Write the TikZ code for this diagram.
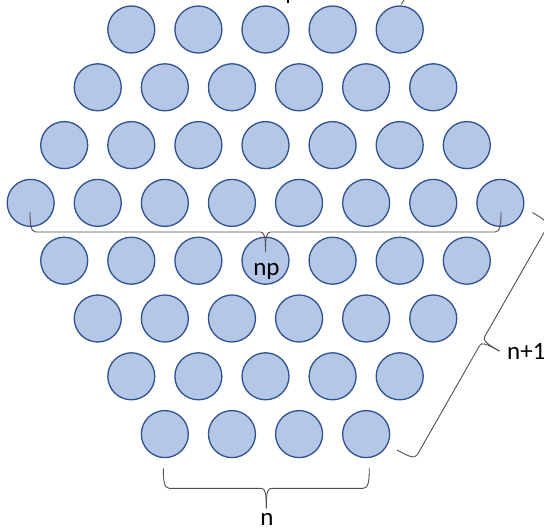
\documentclass[tikz,border=0pt]{standalone}
\usepackage{fontspec}
\setmainfont{Carlito}
\definecolor{ballfill}{RGB}{180,199,231}
\definecolor{balledge}{RGB}{47,82,143}
\definecolor{bracegray}{RGB}{80,80,80}
\tikzset{
  ball/.style={circle, draw=balledge, fill=ballfill, line width=1.3pt,
    minimum size=47pt, inner sep=0pt, outer sep=0pt},
  bracestroke/.style={draw=bracegray, line width=0.9pt},
  lbl/.style={font=\fontsize{25}{30}\selectfont, inner sep=0pt, text=black},
  obrace/.pic={
    \pgfmathsetmacro\hl{#1/2}
    \draw[bracestroke] (0,0) .. controls (0,13) and (1,20) .. (6,20)
      -- (\hl-5,20) .. controls (\hl-1,20) and (\hl,25) .. (\hl,40);
    \draw[bracestroke] (#1,0) .. controls (#1,13) and (#1-1,20) .. (#1-6,20)
      -- (\hl+5,20) .. controls (\hl+1,20) and (\hl,25) .. (\hl,40);
  }
}
\begin{document}
\begin{tikzpicture}[x=1pt,y=-1pt]
\useasboundingbox (0,0) rectangle (544,529);
% balls
\foreach \n [count=\k from 0] in {5,6,7,8,7,6,5,4} {
  \foreach \j in {1,...,\n} {
    \node[ball] (c\k-\j) at ({265.5+(\j-(\n+1)/2)*67.1}, {29.5+\k*57.8}) {};
  }
}
% brace anchors
\coordinate (npL) at (30,212);
\coordinate (nL) at (163.3,468.3);
\coordinate (diagL) at (397,450);
% braces
\pic at (npL) {obrace=471};
\pic at (nL) {obrace=206};
\pic[rotate=60.3] at (diagL) {obrace=273.4};
% cut-off fragments at top edge
\draw[line width=1.5pt] (288,0) -- (288,3.5);
\draw[bracestroke] (401,4.5) -- (404,0);
% labels
\node[lbl, anchor=base] (np) at (266.5,276) {np};
\node[lbl, anchor=base west] (n1) at (507,359.5) {n+1};
\node[lbl, anchor=base] (nn) at (267,525) {n};
\end{tikzpicture}
\end{document}
